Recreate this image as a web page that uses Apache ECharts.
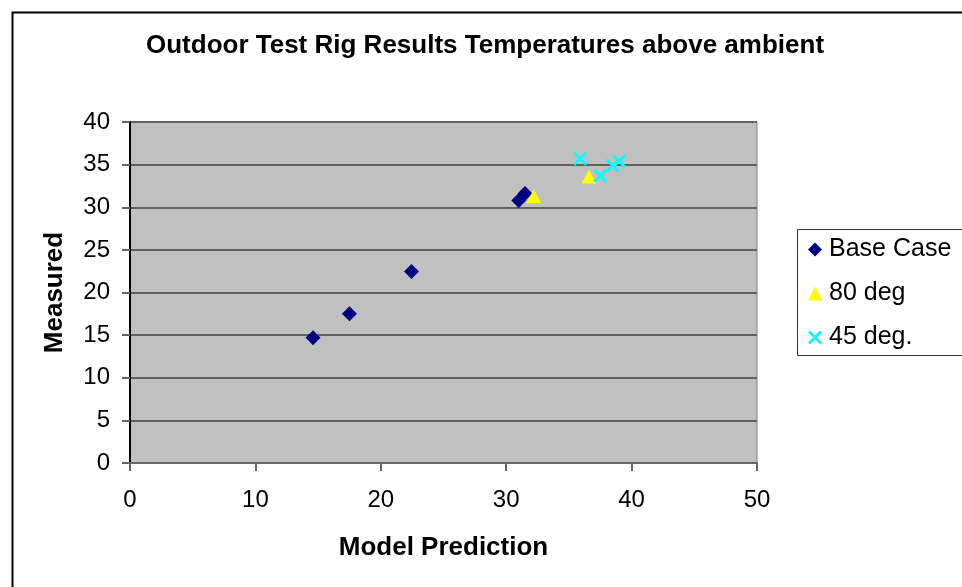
<!DOCTYPE html>
<html>
<head>
<meta charset="utf-8">
<script src="https://cdn.jsdelivr.net/npm/echarts@6/dist/echarts.min.js"></script>
<style>
html,body{margin:0;padding:0;background:#fff;}
#chart{width:962px;height:587px;}
</style>
</head>
<body>
<div id="chart"></div>
<script>
const xTicks = [0, 10, 20, 30, 40, 50];
const yTicks = [0, 5, 10, 15, 20, 25, 30, 35, 40];
const seriesNames = ['Base Case', '80 deg', '45 deg.'];
const baseCaseX = [14.6, 17.5, 22.45, 31.0, 31.5];
const baseCaseY = [14.7, 17.5, 22.45, 30.8, 31.6];
const deg80X = [32.2, 36.6];
const deg80Y = [31.3, 33.6];
const deg45X = [35.9, 37.5, 38.5, 39.0];
const deg45Y = [35.7, 33.7, 34.9, 35.4];

const pairs = (xs, ys) => xs.map((x, i) => [x, ys[i]]);
const crossPath = 'path://M0,1.4L1.4,0L5,3.6L8.6,0L10,1.4L6.4,5L10,8.6L8.6,10L5,6.4L1.4,10L0,8.6L3.6,5Z';
const font = 'Liberation Sans, Arial, sans-serif';

const chart = echarts.init(document.getElementById('chart'), null, {renderer: 'canvas'});
chart.setOption({
  animation: false,
  backgroundColor: '#ffffff',
  textStyle: {fontFamily: font},
  graphic: [
    {type: 'rect', left: 10, top: 10, shape: {width: 1000, height: 1000},
     style: {fill: 'none', stroke: '#000', lineWidth: 2}, z: 0},
    {type: 'rect', left: 797, top: 229, shape: {width: 300, height: 126},
     style: {fill: '#fff', stroke: '#333', lineWidth: 1}, z: 1}
  ],
  title: {
    text: 'Outdoor Test Rig Results Temperatures above ambient',
    left: 146, top: 33, padding: 0,
    textStyle: {fontFamily: font, fontSize: 26, fontWeight: 'bold', color: '#000'}
  },
  legend: {
    orient: 'vertical', left: 808, top: 237, itemGap: 19,
    itemWidth: 14, itemHeight: 14, padding: 0, z: 5,
    data: seriesNames,
    textStyle: {fontFamily: font, fontSize: 25, color: '#000', padding: [0, 0, 0, 2]}
  },
  grid: {
    left: 130, top: 122, right: 205, bottom: 124,
    show: true, backgroundColor: '#C0C0C0', borderColor: '#808080', borderWidth: 1
  },
  xAxis: {
    type: 'value', min: 0, max: 50, interval: 10,
    name: 'Model Prediction', nameLocation: 'middle', nameGap: 72,
    nameTextStyle: {fontFamily: font, fontSize: 26, fontWeight: 'bold', color: '#000'},
    axisLine: {show: true, lineStyle: {color: '#666', width: 2}},
    axisTick: {show: true, length: 8, lineStyle: {color: '#666', width: 2}},
    axisLabel: {fontFamily: font, fontSize: 24, color: '#000', margin: 25,
      formatter: v => xTicks.includes(v) ? String(v) : ''},
    splitLine: {show: false}
  },
  yAxis: {
    type: 'value', min: 0, max: 40, interval: 5,
    name: 'Measured', nameLocation: 'middle', nameGap: 62,
    nameTextStyle: {fontFamily: font, fontSize: 26, fontWeight: 'bold', color: '#000'},
    axisLine: {show: true, lineStyle: {color: '#000', width: 2}},
    axisTick: {show: true, length: 8, lineStyle: {color: '#666', width: 2}},
    axisLabel: {fontFamily: font, fontSize: 24, color: '#000', margin: 20,
      formatter: v => yTicks.includes(v) ? String(v) : ''},
    splitLine: {show: true, lineStyle: {color: '#606060', width: 2}}
  },
  series: [
    {name: seriesNames[0], type: 'scatter', data: pairs(baseCaseX, baseCaseY),
     symbol: 'diamond', symbolSize: [15, 15], itemStyle: {color: '#000080', opacity: 1}, z: 3},
    {name: seriesNames[1], type: 'scatter', data: pairs(deg80X, deg80Y),
     symbol: 'triangle', symbolSize: [15, 14], itemStyle: {color: '#FFFF00', opacity: 1}, z: 4},
    {name: seriesNames[2], type: 'scatter', data: pairs(deg45X, deg45Y),
     symbol: crossPath, symbolSize: [14, 14], itemStyle: {color: '#00FFFF', opacity: 1}, z: 5}
  ]
});
</script>
</body>
</html>
